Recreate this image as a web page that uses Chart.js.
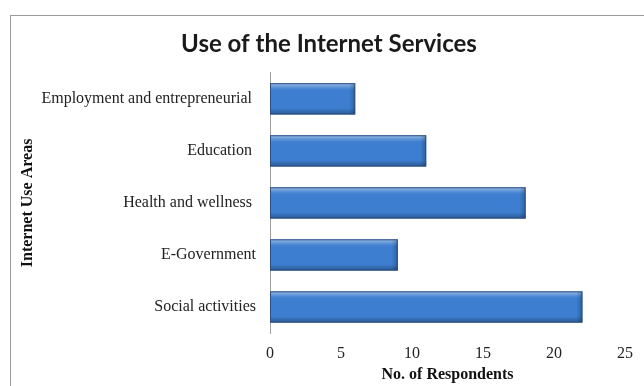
<!DOCTYPE html>
<html>
<head>
<meta charset="utf-8">
<script src="https://cdn.jsdelivr.net/npm/chart.js@4"></script>
<style>
  html, body { margin: 0; padding: 0; background: #fff; }
  #wrap { position: relative; width: 644px; height: 386px; }
  #frame { position: absolute; left: 10px; top: 15px; right: 0; bottom: 0;
           border-left: 1px solid #9a9a9a; border-top: 1px solid #9a9a9a; }
  canvas { position: absolute; left: 0; top: 0; }
</style>
</head>
<body>
<div id="wrap">
  <div id="frame"></div>
  <canvas id="myChart" width="644" height="386"></canvas>
</div>
<script>
// chart data (labels keep the trailing blanks they have in the original)
const categories = ['Employment and entrepreneurial ', 'Education ', 'Health and wellness ', 'E-Government', 'Social activities'];
const respondents = [6, 11, 18, 9, 22];
const xTicks = [0, 5, 10, 15, 20, 25];

// gives the bars the shiny bevelled look
const bevel = {
  id: 'bevel',
  afterDatasetsDraw(chart) {
    const ctx = chart.ctx;
    chart.getDatasetMeta(0).data.forEach((bar) => {
      const p = bar.getProps(['x', 'y', 'base', 'height']);
      const top = p.y - p.height / 2;
      const left = Math.min(p.base, p.x);
      const w = Math.abs(p.x - p.base);
      const g = ctx.createLinearGradient(0, top, 0, top + p.height);
      g.addColorStop(0, 'rgba(255,255,255,0.5)');
      g.addColorStop(0.12, 'rgba(255,255,255,0.18)');
      g.addColorStop(0.22, 'rgba(255,255,255,0)');
      g.addColorStop(0.8, 'rgba(0,0,0,0)');
      g.addColorStop(1, 'rgba(0,0,0,0.3)');
      ctx.save();
      ctx.fillStyle = g;
      ctx.fillRect(left, top, w, p.height);
      const g2 = ctx.createLinearGradient(left + w - 6, 0, left + w, 0);
      g2.addColorStop(0, 'rgba(0,0,0,0)');
      g2.addColorStop(1, 'rgba(0,0,0,0.25)');
      ctx.fillStyle = g2;
      ctx.fillRect(left + w - 6, top, 6, p.height);
      ctx.strokeStyle = '#2b4f80';
      ctx.lineWidth = 1;
      ctx.strokeRect(left + 0.5, top + 0.5, w - 1, p.height - 1);
      ctx.restore();
    });
  }
};

// title sits centred on the frame, a little right of the canvas centre
const nudgeTitle = {
  id: 'nudgeTitle',
  afterLayout(chart) {
    if (chart.titleBlock) {
      chart.titleBlock.left += 13;
      chart.titleBlock.right += 0;
    }
  }
};

window.addEventListener('load', function () {
  const ctx = document.getElementById('myChart');
  new Chart(ctx, {
    type: 'bar',
    data: {
      labels: categories,
      datasets: [{
        label: 'No. of Respondents',
        data: respondents,
        backgroundColor: '#3d7ed0',
        borderWidth: 0,
        categoryPercentage: 1,
        barPercentage: 0.6
      }]
    },
    plugins: [bevel, nudgeTitle],
    options: {
      indexAxis: 'y',
      responsive: false,
      animation: false,
      layout: { padding: { left: 18, right: 17, top: 0, bottom: 0 } },
      plugins: {
        legend: { display: false },
        tooltip: { enabled: false },
        title: {
          display: true,
          text: 'Use of the Internet Services',
          color: '#1a1a1a',
          font: { family: 'Lato', size: 24, weight: 'bold' },
          padding: { top: 30, bottom: 14 }
        }
      },
      scales: {
        x: {
          min: 0,
          max: 25,
          afterBuildTicks: (scale) => { scale.ticks = xTicks.map(v => ({ value: v })); },
          grid: { display: false, drawTicks: false },
          border: { display: false },
          ticks: { color: '#222', padding: 11, font: { family: 'Liberation Serif', size: 16 } },
          title: {
            display: true,
            text: 'No. of Respondents',
            color: '#111',
            font: { family: 'Liberation Serif', size: 16, weight: 'bold' },
            padding: { top: 2, bottom: 2 }
          },
          afterFit: (scale) => { scale.height = 53; }
        },
        y: {
          grid: { display: false, drawTicks: false },
          border: { display: true, color: '#a0a0a0', width: 1 },
          ticks: { color: '#222', padding: 14, font: { family: 'Liberation Serif', size: 16 } },
          title: {
            display: true,
            text: 'Internet Use Areas',
            color: '#111',
            font: { family: 'Liberation Serif', size: 16, weight: 'bold' },
            padding: { top: 0, bottom: 0 }
          },
          afterFit: (scale) => { scale.width = 252; }
        }
      }
    }
  });
});
</script>
</body>
</html>
